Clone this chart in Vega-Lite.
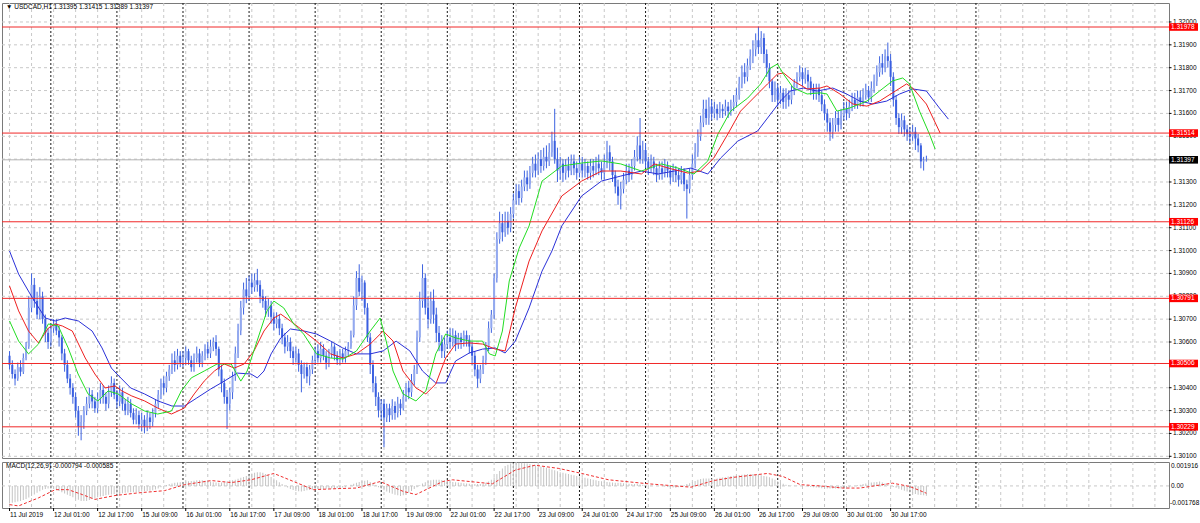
{
"$schema": "https://vega.github.io/schema/vega-lite/v6.json",
"background": "white",
"padding": {"left": 1, "top": 2, "right": 0, "bottom": 0},
"bounds": "flush",
"spacing": 4,
"config": {
  "view": {"stroke": "#7a7a7a", "strokeWidth": 1},
  "title": {"font": "Liberation Sans", "fontSize": 6.5, "fontWeight": "normal", "color": "#000000", "anchor": "start", "frame": "group"}
},
"resolve": {"scale": {"x": "independent", "y": "independent"}},
"datasets": {
  "xgrid": [{"i":0},{"i":8},{"i":16},{"i":24},{"i":32},{"i":40},{"i":48},{"i":56},{"i":64},{"i":72},{"i":80},{"i":88},{"i":96},{"i":104},{"i":112},{"i":120},{"i":128},{"i":136},{"i":144},{"i":152},{"i":160},{"i":168},{"i":176},{"i":184},{"i":192},{"i":200},{"i":208},{"i":216},{"i":224},{"i":232},{"i":240},{"i":248},{"i":256},{"i":264},{"i":272},{"i":280},{"i":288},{"i":296},{"i":304},{"i":312},{"i":320},{"i":328},{"i":336},{"i":344},{"i":352},{"i":360},{"i":368},{"i":376},{"i":384},{"i":392},{"i":400},{"i":408},{"i":416}],
  "ygrid": [{"p":1.301},{"p":1.302},{"p":1.303},{"p":1.304},{"p":1.305},{"p":1.306},{"p":1.307},{"p":1.308},{"p":1.309},{"p":1.31},{"p":1.311},{"p":1.312},{"p":1.313},{"p":1.314},{"p":1.315},{"p":1.316},{"p":1.317},{"p":1.318},{"p":1.319},{"p":1.32}],
  "ylines": [{"p":1.301},{"p":1.302},{"p":1.303},{"p":1.304},{"p":1.306},{"p":1.307},{"p":1.308},{"p":1.309},{"p":1.31},{"p":1.311},{"p":1.312},{"p":1.313},{"p":1.314},{"p":1.315},{"p":1.316},{"p":1.317},{"p":1.318},{"p":1.319},{"p":1.32}],
  "xlab": [{"i":0,"t":"11 Jul 2019"},{"i":16,"t":"12 Jul 01:00"},{"i":32,"t":"12 Jul 17:00"},{"i":48,"t":"15 Jul 09:00"},{"i":64,"t":"16 Jul 01:00"},{"i":80,"t":"16 Jul 17:00"},{"i":96,"t":"17 Jul 09:00"},{"i":112,"t":"18 Jul 01:00"},{"i":128,"t":"18 Jul 17:00"},{"i":144,"t":"19 Jul 09:00"},{"i":160,"t":"22 Jul 01:00"},{"i":176,"t":"22 Jul 17:00"},{"i":192,"t":"23 Jul 09:00"},{"i":208,"t":"24 Jul 01:00"},{"i":224,"t":"24 Jul 17:00"},{"i":240,"t":"25 Jul 09:00"},{"i":256,"t":"26 Jul 01:00"},{"i":272,"t":"26 Jul 17:00"},{"i":288,"t":"29 Jul 09:00"},{"i":304,"t":"30 Jul 01:00"},{"i":320,"t":"30 Jul 17:00"}],
  "days": [{"i":15},{"i":39},{"i":63},{"i":87},{"i":111},{"i":135},{"i":159},{"i":183},{"i":207},{"i":231},{"i":255},{"i":279},{"i":303},{"i":327},{"i":351}],
  "levels": [{"p":1.31978},{"p":1.31514},{"p":1.31126},{"p":1.30791},{"p":1.30506},{"p":1.30229}],
  "cur": [{"p":1.31397}],
  "jaw": [{"i":0,"v":1.30998},{"i":3.3,"v":1.30897},{"i":8.3,"v":1.30793},{"i":13,"v":1.30705},{"i":16.6,"v":1.30692},{"i":20.2,"v":1.30705},{"i":25,"v":1.30692},{"i":30,"v":1.30648},{"i":33.6,"v":1.30574},{"i":37,"v":1.30486},{"i":39,"v":1.3046},{"i":44,"v":1.30399},{"i":49,"v":1.30373},{"i":54,"v":1.30342},{"i":59,"v":1.3032},{"i":63.5,"v":1.3032},{"i":68,"v":1.30355},{"i":73,"v":1.30394},{"i":78,"v":1.30429},{"i":82.7,"v":1.30464},{"i":87.7,"v":1.3046},{"i":90,"v":1.30443},{"i":92.4,"v":1.30473},{"i":95,"v":1.30548},{"i":98.5,"v":1.30618},{"i":102,"v":1.30657},{"i":107,"v":1.30648},{"i":111.5,"v":1.30635},{"i":116.6,"v":1.30604},{"i":121,"v":1.30574},{"i":126,"v":1.30548},{"i":131,"v":1.30548},{"i":135.7,"v":1.30561},{"i":140.4,"v":1.30604},{"i":145.4,"v":1.30561},{"i":150,"v":1.30473},{"i":154.8,"v":1.30421},{"i":158.4,"v":1.30421},{"i":162,"v":1.30517},{"i":167,"v":1.30552},{"i":171.8,"v":1.30569},{"i":176.4,"v":1.30574},{"i":180,"v":1.30552},{"i":183.7,"v":1.30604},{"i":188.7,"v":1.30749},{"i":193.4,"v":1.3091},{"i":197,"v":1.30998},{"i":200.6,"v":1.31108},{"i":207.8,"v":1.31239},{"i":215,"v":1.31304},{"i":222,"v":1.31326},{"i":229.5,"v":1.31348},{"i":235.6,"v":1.31335},{"i":241.4,"v":1.31348},{"i":247.5,"v":1.31361},{"i":253.6,"v":1.31335},{"i":258.3,"v":1.31405},{"i":264.5,"v":1.31479},{"i":271.7,"v":1.31523},{"i":276.4,"v":1.31597},{"i":280,"v":1.31654},{"i":283.6,"v":1.31698},{"i":288.3,"v":1.31711},{"i":293.3,"v":1.31698},{"i":299,"v":1.31711},{"i":304,"v":1.31685},{"i":308.8,"v":1.31654},{"i":313.5,"v":1.31641},{"i":318.6,"v":1.31654},{"i":323.3,"v":1.31685},{"i":328,"v":1.31707},{"i":333,"v":1.31698},{"i":337.7,"v":1.31624},{"i":341,"v":1.31575}],
  "teeth": [{"i":0,"v":1.30845},{"i":3.3,"v":1.30736},{"i":6.9,"v":1.30648},{"i":10.5,"v":1.30596},{"i":14.1,"v":1.30661},{"i":16.6,"v":1.30679},{"i":19.2,"v":1.3067},{"i":22.8,"v":1.30648},{"i":27.5,"v":1.3053},{"i":31,"v":1.3046},{"i":34.7,"v":1.30399},{"i":38.3,"v":1.30408},{"i":40.8,"v":1.30386},{"i":44.4,"v":1.30364},{"i":49.1,"v":1.30342},{"i":53.8,"v":1.30311},{"i":58.8,"v":1.30285},{"i":63.5,"v":1.30311},{"i":67.1,"v":1.30373},{"i":70.7,"v":1.30429},{"i":74.4,"v":1.30473},{"i":78,"v":1.30504},{"i":81.6,"v":1.30486},{"i":85.2,"v":1.30504},{"i":88.8,"v":1.30561},{"i":92.4,"v":1.30648},{"i":96,"v":1.30705},{"i":98.5,"v":1.30722},{"i":102,"v":1.30692},{"i":106.8,"v":1.30648},{"i":111.5,"v":1.30604},{"i":116.6,"v":1.30548},{"i":121.2,"v":1.3053},{"i":126,"v":1.30548},{"i":131,"v":1.30591},{"i":135.7,"v":1.30648},{"i":139.3,"v":1.30604},{"i":142.9,"v":1.30473},{"i":147.6,"v":1.30399},{"i":151.2,"v":1.30373},{"i":154.8,"v":1.30416},{"i":158.4,"v":1.3053},{"i":162,"v":1.30591},{"i":167,"v":1.30596},{"i":171.8,"v":1.30591},{"i":176.4,"v":1.30569},{"i":180,"v":1.30561},{"i":183.7,"v":1.30749},{"i":188.7,"v":1.30954},{"i":193.4,"v":1.31086},{"i":200.6,"v":1.31239},{"i":207.8,"v":1.31304},{"i":215,"v":1.31348},{"i":222,"v":1.31348},{"i":229.5,"v":1.31335},{"i":234.2,"v":1.31379},{"i":239.2,"v":1.31361},{"i":246.4,"v":1.31339},{"i":251,"v":1.31348},{"i":255.8,"v":1.31405},{"i":260.9,"v":1.3151},{"i":265.5,"v":1.3161},{"i":270.2,"v":1.31667},{"i":275.3,"v":1.31729},{"i":278.9,"v":1.31772},{"i":281.1,"v":1.31777},{"i":284.7,"v":1.31742},{"i":289.7,"v":1.31707},{"i":294.4,"v":1.31711},{"i":296.9,"v":1.3172},{"i":301.6,"v":1.31685},{"i":306.3,"v":1.31641},{"i":311.4,"v":1.31632},{"i":316,"v":1.31654},{"i":320.7,"v":1.3169},{"i":325.8,"v":1.31729},{"i":328,"v":1.31711},{"i":333,"v":1.31641},{"i":338,"v":1.31514}],
  "lips": [{"i":0,"v":1.30692},{"i":3.3,"v":1.30604},{"i":6.9,"v":1.30548},{"i":10.5,"v":1.30591},{"i":14.1,"v":1.30679},{"i":17.7,"v":1.3067},{"i":21.3,"v":1.30574},{"i":24.9,"v":1.3046},{"i":28.5,"v":1.30373},{"i":32.1,"v":1.30342},{"i":35.8,"v":1.30386},{"i":39.4,"v":1.30373},{"i":44.4,"v":1.30329},{"i":49.1,"v":1.30298},{"i":53.8,"v":1.30285},{"i":58.8,"v":1.30298},{"i":62.4,"v":1.30386},{"i":66,"v":1.30443},{"i":70.7,"v":1.30473},{"i":75.4,"v":1.30504},{"i":80.5,"v":1.30504},{"i":84,"v":1.30429},{"i":86.3,"v":1.30473},{"i":89.9,"v":1.30604},{"i":93.5,"v":1.30736},{"i":96,"v":1.30779},{"i":99.6,"v":1.30749},{"i":103.2,"v":1.30679},{"i":106.8,"v":1.30635},{"i":111.5,"v":1.30548},{"i":116.6,"v":1.3053},{"i":121.2,"v":1.30526},{"i":126,"v":1.30561},{"i":131,"v":1.30648},{"i":134.6,"v":1.30705},{"i":136.8,"v":1.30604},{"i":139.3,"v":1.30473},{"i":142.9,"v":1.30373},{"i":147.6,"v":1.30342},{"i":151.2,"v":1.30386},{"i":154.8,"v":1.30548},{"i":158.4,"v":1.30635},{"i":162,"v":1.30618},{"i":167,"v":1.30604},{"i":171.8,"v":1.30604},{"i":174.3,"v":1.30548},{"i":176.4,"v":1.30539},{"i":179,"v":1.30648},{"i":181.5,"v":1.30867},{"i":185.1,"v":1.31011},{"i":188.7,"v":1.31108},{"i":193.4,"v":1.31304},{"i":200.6,"v":1.3137},{"i":207.8,"v":1.31383},{"i":215,"v":1.31392},{"i":222,"v":1.31379},{"i":229.5,"v":1.31348},{"i":236.7,"v":1.31379},{"i":242.8,"v":1.31361},{"i":248.6,"v":1.31335},{"i":253.6,"v":1.31392},{"i":257.3,"v":1.3151},{"i":261.9,"v":1.3161},{"i":268.1,"v":1.31667},{"i":272.8,"v":1.31729},{"i":276.4,"v":1.31799},{"i":278.9,"v":1.31816},{"i":281.1,"v":1.31772},{"i":284.7,"v":1.31711},{"i":289.7,"v":1.31685},{"i":294.4,"v":1.3169},{"i":296.9,"v":1.31685},{"i":300.5,"v":1.3161},{"i":305.2,"v":1.31624},{"i":311.4,"v":1.31654},{"i":316,"v":1.31698},{"i":320.7,"v":1.31742},{"i":324.4,"v":1.31755},{"i":326.9,"v":1.31729},{"i":330.5,"v":1.3161},{"i":334.1,"v":1.3151},{"i":336.2,"v":1.31444}],
  "sig": [{"i":0,"s":-0.0015},{"i":3.3,"s":-0.0016},{"i":10.5,"s":-0.00096},{"i":16.6,"s":-0.0003},{"i":21.3,"s":-0.0003},{"i":26.4,"s":-0.00069},{"i":31,"s":-0.00108},{"i":38.3,"s":-0.00077},{"i":46.6,"s":-0.00056},{"i":56.3,"s":-0.00038},{"i":63.5,"s":0.0001},{"i":73.3,"s":0.00043},{"i":80.5,"s":0.00027},{"i":87.7,"s":0.00049},{"i":96,"s":0.001},{"i":103.2,"s":0.00035},{"i":110.4,"s":-0.0003},{"i":118.7,"s":-0.00022},{"i":126,"s":-0.00017},{"i":134.6,"s":0.00035},{"i":142.9,"s":-0.00043},{"i":147.6,"s":-0.00069},{"i":157.3,"s":0.00035},{"i":160.9,"s":0.00049},{"i":175.4,"s":0.00017},{"i":183.7,"s":0.00127},{"i":190.9,"s":0.00166},{"i":199.5,"s":0.0014},{"i":207.8,"s":0.001},{"i":217.6,"s":0.00049},{"i":232,"s":0.00017},{"i":247.5,"s":-0.0001},{"i":255.8,"s":0.00043},{"i":263,"s":0.00069},{"i":275.3,"s":0.001},{"i":281,"s":0.00075},{"i":287.2,"s":0.0001},{"i":294.4,"s":0},{"i":302.7,"s":-0.00017},{"i":308.8,"s":-0.00017},{"i":320.7,"s":0.00022},{"i":326.9,"s":-0.00004},{"i":333,"s":-0.000585}],
  "macd": [
{"i":0,"m":-0.0014},{"i":1,"m":-0.00135},{"i":2,"m":-0.0013},{"i":3,"m":-0.00125},{"i":4,"m":-0.0012},{"i":5,"m":-0.00112},{"i":6,"m":-0.00105},{"i":7,"m":-0.00092},{"i":8,"m":-0.0008},{"i":9,"m":-0.00068},
{"i":10,"m":-0.00055},{"i":11,"m":-0.00042},{"i":12,"m":-0.0003},{"i":13,"m":-0.00025},{"i":14,"m":-0.0002},{"i":15,"m":-0.00022},{"i":16,"m":-0.00025},{"i":17,"m":-0.00032},{"i":18,"m":-0.0004},{"i":19,"m":-0.0005},
{"i":20,"m":-0.0006},{"i":21,"m":-0.0007},{"i":22,"m":-0.0008},{"i":23,"m":-0.0009},{"i":24,"m":-0.001},{"i":25,"m":-0.0011},{"i":26,"m":-0.0012},{"i":27,"m":-0.0012},{"i":28,"m":-0.0012},{"i":29,"m":-0.00112},
{"i":30,"m":-0.00105},{"i":31,"m":-0.00098},{"i":32,"m":-0.0009},{"i":33,"m":-0.00085},{"i":34,"m":-0.0008},{"i":35,"m":-0.00075},{"i":36,"m":-0.0007},{"i":37,"m":-0.00068},{"i":38,"m":-0.00065},{"i":39,"m":-0.00062},
{"i":40,"m":-0.0006},{"i":41,"m":-0.00058},{"i":42,"m":-0.00055},{"i":43,"m":-0.00052},{"i":44,"m":-0.0005},{"i":45,"m":-0.0005},{"i":46,"m":-0.0005},{"i":47,"m":-0.00048},{"i":48,"m":-0.00045},{"i":49,"m":-0.00042},
{"i":50,"m":-0.0004},{"i":51,"m":-0.00038},{"i":52,"m":-0.00035},{"i":53,"m":-0.00028},{"i":54,"m":-0.0002},{"i":55,"m":-0.0001},{"i":56,"m":0},{"i":57,"m":0.00008},{"i":58,"m":0.00015},{"i":59,"m":0.0002},
{"i":60,"m":0.00025},{"i":61,"m":0.00028},{"i":62,"m":0.0003},{"i":63,"m":0.00032},{"i":64,"m":0.00035},{"i":65,"m":0.00038},{"i":66,"m":0.0004},{"i":67,"m":0.00042},{"i":68,"m":0.00045},{"i":69,"m":0.00045},
{"i":70,"m":0.00045},{"i":71,"m":0.00042},{"i":72,"m":0.0004},{"i":73,"m":0.00035},{"i":74,"m":0.0003},{"i":75,"m":0.00028},{"i":76,"m":0.00025},{"i":77,"m":0.00028},{"i":78,"m":0.0003},{"i":79,"m":0.00035},
{"i":80,"m":0.0004},{"i":81,"m":0.00045},{"i":82,"m":0.0005},{"i":83,"m":0.00058},{"i":84,"m":0.00065},{"i":85,"m":0.00072},{"i":86,"m":0.0008},{"i":87,"m":0.0009},{"i":88,"m":0.001},{"i":89,"m":0.00105},
{"i":90,"m":0.0011},{"i":91,"m":0.0011},{"i":92,"m":0.00105},{"i":93,"m":0.00095},{"i":94,"m":0.00085},{"i":95,"m":0.00072},{"i":96,"m":0.0006},{"i":97,"m":0.00045},{"i":98,"m":0.0003},{"i":99,"m":0.00015},
{"i":100,"m":0},{"i":101,"m":-0.00012},{"i":102,"m":-0.00025},{"i":103,"m":-0.00032},{"i":104,"m":-0.0004},{"i":105,"m":-0.00042},{"i":106,"m":-0.00045},{"i":107,"m":-0.0004},{"i":108,"m":-0.00035},{"i":109,"m":-0.00032},
{"i":110,"m":-0.0003},{"i":111,"m":-0.00028},{"i":112,"m":-0.00025},{"i":113,"m":-0.00025},{"i":114,"m":-0.00025},{"i":115,"m":-0.00022},{"i":116,"m":-0.0002},{"i":117,"m":-0.0002},{"i":118,"m":-0.0002},{"i":119,"m":-0.00018},
{"i":120,"m":-0.00015},{"i":121,"m":-0.00012},{"i":122,"m":-0.0001},{"i":123,"m":0},{"i":124,"m":0.0001},{"i":125,"m":0.00018},{"i":126,"m":0.00025},{"i":127,"m":0.00032},{"i":128,"m":0.0004},{"i":129,"m":0.00042},
{"i":130,"m":0.00045},{"i":131,"m":0.00032},{"i":132,"m":0.0002},{"i":133,"m":0.00005},{"i":134,"m":-0.0001},{"i":135,"m":-0.00022},{"i":136,"m":-0.00035},{"i":137,"m":-0.00045},{"i":138,"m":-0.00055},{"i":139,"m":-0.00062},
{"i":140,"m":-0.0007},{"i":141,"m":-0.00075},{"i":142,"m":-0.0008},{"i":143,"m":-0.00075},{"i":144,"m":-0.0007},{"i":145,"m":-0.00055},{"i":146,"m":-0.0004},{"i":147,"m":-0.00025},{"i":148,"m":-0.0001},{"i":149,"m":0.00005},
{"i":150,"m":0.0002},{"i":151,"m":0.0003},{"i":152,"m":0.0004},{"i":153,"m":0.00045},{"i":154,"m":0.0005},{"i":155,"m":0.0005},{"i":156,"m":0.0005},{"i":157,"m":0.00048},{"i":158,"m":0.00045},{"i":159,"m":0.0004},
{"i":160,"m":0.00035},{"i":161,"m":0.00032},{"i":162,"m":0.0003},{"i":163,"m":0.00028},{"i":164,"m":0.00025},{"i":165,"m":0.00022},{"i":166,"m":0.0002},{"i":167,"m":0.00018},{"i":168,"m":0.00015},{"i":169,"m":0.00015},
{"i":170,"m":0.00015},{"i":171,"m":0.00015},{"i":172,"m":0.00018},{"i":173,"m":0.00025},{"i":174,"m":0.00035},{"i":175,"m":0.0005},{"i":176,"m":0.0007},{"i":177,"m":0.00095},{"i":178,"m":0.0012},{"i":179,"m":0.0014},
{"i":180,"m":0.0016},{"i":181,"m":0.0017},{"i":182,"m":0.0018},{"i":183,"m":0.00182},{"i":184,"m":0.00185},{"i":185,"m":0.00185},{"i":186,"m":0.00185},{"i":187,"m":0.00182},{"i":188,"m":0.0018},{"i":189,"m":0.00175},
{"i":190,"m":0.0017},{"i":191,"m":0.00165},{"i":192,"m":0.0016},{"i":193,"m":0.00155},{"i":194,"m":0.0015},{"i":195,"m":0.00145},{"i":196,"m":0.0014},{"i":197,"m":0.00132},{"i":198,"m":0.00125},{"i":199,"m":0.00118},
{"i":200,"m":0.0011},{"i":201,"m":0.00105},{"i":202,"m":0.001},{"i":203,"m":0.00095},{"i":204,"m":0.0009},{"i":205,"m":0.00085},{"i":206,"m":0.0008},{"i":207,"m":0.00075},{"i":208,"m":0.0007},{"i":209,"m":0.00065},
{"i":210,"m":0.0006},{"i":211,"m":0.00055},{"i":212,"m":0.0005},{"i":213,"m":0.00045},{"i":214,"m":0.0004},{"i":215,"m":0.00038},{"i":216,"m":0.00035},{"i":217,"m":0.00032},{"i":218,"m":0.0003},{"i":219,"m":0.00028},
{"i":220,"m":0.00025},{"i":221,"m":0.00025},{"i":222,"m":0.00025},{"i":223,"m":0.00022},{"i":224,"m":0.0002},{"i":225,"m":0.00018},{"i":226,"m":0.00015},{"i":227,"m":0.00015},{"i":228,"m":0.00015},{"i":229,"m":0.00012},
{"i":230,"m":0.0001},{"i":231,"m":0.00008},{"i":232,"m":0.00005},{"i":233,"m":0.00002},{"i":234,"m":0},{"i":235,"m":0},{"i":236,"m":0},{"i":237,"m":-0.00002},{"i":238,"m":-0.00005},{"i":239,"m":-0.00008},
{"i":240,"m":-0.0001},{"i":241,"m":-0.00012},{"i":242,"m":-0.00015},{"i":243,"m":-0.0001},{"i":244,"m":-0.00005},{"i":245,"m":0.00005},{"i":246,"m":0.00015},{"i":247,"m":0.00022},{"i":248,"m":0.0003},{"i":249,"m":0.0004},
{"i":250,"m":0.0005},{"i":251,"m":0.00055},{"i":252,"m":0.0006},{"i":253,"m":0.0006},{"i":254,"m":0.0006},{"i":255,"m":0.00058},{"i":256,"m":0.00055},{"i":257,"m":0.0006},{"i":258,"m":0.00065},{"i":259,"m":0.00068},
{"i":260,"m":0.0007},{"i":261,"m":0.00075},{"i":262,"m":0.0008},{"i":263,"m":0.00082},{"i":264,"m":0.00085},{"i":265,"m":0.00088},{"i":266,"m":0.0009},{"i":267,"m":0.00092},{"i":268,"m":0.00095},{"i":269,"m":0.00095},
{"i":270,"m":0.00095},{"i":271,"m":0.00092},{"i":272,"m":0.0009},{"i":273,"m":0.00085},{"i":274,"m":0.0008},{"i":275,"m":0.00075},{"i":276,"m":0.0007},{"i":277,"m":0.0006},{"i":278,"m":0.0005},{"i":279,"m":0.00038},
{"i":280,"m":0.00025},{"i":281,"m":0.00018},{"i":282,"m":0.0001},{"i":283,"m":0.00005},{"i":284,"m":0.00002},{"i":285,"m":0.00002},{"i":286,"m":0.00002},{"i":287,"m":0.00001},{"i":288,"m":0},{"i":289,"m":-0.00002},
{"i":290,"m":-0.00005},{"i":291,"m":-0.00008},{"i":292,"m":-0.0001},{"i":293,"m":-0.00012},{"i":294,"m":-0.00015},{"i":295,"m":-0.00018},{"i":296,"m":-0.0002},{"i":297,"m":-0.0002},{"i":298,"m":-0.0002},{"i":299,"m":-0.0002},
{"i":300,"m":-0.0002},{"i":301,"m":-0.0002},{"i":302,"m":-0.0002},{"i":303,"m":-0.00018},{"i":304,"m":-0.00015},{"i":305,"m":-0.0001},{"i":306,"m":-0.00005},{"i":307,"m":0},{"i":308,"m":0.00005},{"i":309,"m":0.0001},
{"i":310,"m":0.00015},{"i":311,"m":0.0002},{"i":312,"m":0.00025},{"i":313,"m":0.00028},{"i":314,"m":0.0003},{"i":315,"m":0.00032},{"i":316,"m":0.00035},{"i":317,"m":0.00028},{"i":318,"m":0.0002},{"i":319,"m":0.0001},
{"i":320,"m":0},{"i":321,"m":-0.00008},{"i":322,"m":-0.00015},{"i":323,"m":-0.00022},{"i":324,"m":-0.0003},{"i":325,"m":-0.00038},{"i":326,"m":-0.00045},{"i":327,"m":-0.00052},{"i":328,"m":-0.0006},{"i":329,"m":-0.00065},
{"i":330,"m":-0.0007},{"i":331,"m":-0.00072},{"i":332,"m":-0.00075},{"i":333,"m":-0.000794}
  ],
  "candles": [
{"i":0,"o":1.3054,"h":1.3056,"l":1.3048,"c":1.3050},
{"i":1,"o":1.3050,"h":1.3052,"l":1.3044,"c":1.3046},
{"i":2,"o":1.3046,"h":1.3048,"l":1.3041,"c":1.3044},
{"i":3,"o":1.3044,"h":1.3051,"l":1.3043,"c":1.3049},
{"i":4,"o":1.3049,"h":1.3052,"l":1.3045,"c":1.3047},
{"i":5,"o":1.3047,"h":1.3055,"l":1.3046,"c":1.3053},
{"i":6,"o":1.3053,"h":1.3060,"l":1.3052,"c":1.3058},
{"i":7,"o":1.3058,"h":1.3080,"l":1.3057,"c":1.3075},
{"i":8,"o":1.3075,"h":1.3090,"l":1.3073,"c":1.3085},
{"i":9,"o":1.3085,"h":1.3088,"l":1.3075,"c":1.3078},
{"i":10,"o":1.3078,"h":1.3082,"l":1.3070,"c":1.3072},
{"i":11,"o":1.3072,"h":1.3084,"l":1.3070,"c":1.3080},
{"i":12,"o":1.3080,"h":1.3082,"l":1.3068,"c":1.3070},
{"i":13,"o":1.3070,"h":1.3072,"l":1.3060,"c":1.3064},
{"i":14,"o":1.3064,"h":1.3066,"l":1.3057,"c":1.3060},
{"i":15,"o":1.3060,"h":1.3068,"l":1.3058,"c":1.3066},
{"i":16,"o":1.3066,"h":1.3070,"l":1.3064,"c":1.3068},
{"i":17,"o":1.3068,"h":1.3070,"l":1.3063,"c":1.3065},
{"i":18,"o":1.3065,"h":1.3067,"l":1.3058,"c":1.3062},
{"i":19,"o":1.3062,"h":1.3063,"l":1.3052,"c":1.3055},
{"i":20,"o":1.3055,"h":1.3057,"l":1.3047,"c":1.3050},
{"i":21,"o":1.3050,"h":1.3052,"l":1.3042,"c":1.3044},
{"i":22,"o":1.3044,"h":1.3046,"l":1.3037,"c":1.3040},
{"i":23,"o":1.3040,"h":1.3042,"l":1.3033,"c":1.3036},
{"i":24,"o":1.3036,"h":1.3038,"l":1.3027,"c":1.3030},
{"i":25,"o":1.3030,"h":1.3032,"l":1.3019,"c":1.3023},
{"i":26,"o":1.3023,"h":1.3028,"l":1.3017,"c":1.3025},
{"i":27,"o":1.3025,"h":1.3032,"l":1.3022,"c":1.3030},
{"i":28,"o":1.3030,"h":1.3036,"l":1.3028,"c":1.3033},
{"i":29,"o":1.3033,"h":1.3040,"l":1.3031,"c":1.3037},
{"i":30,"o":1.3037,"h":1.3039,"l":1.3031,"c":1.3034},
{"i":31,"o":1.3034,"h":1.3036,"l":1.3029,"c":1.3031},
{"i":32,"o":1.3031,"h":1.3038,"l":1.3029,"c":1.3035},
{"i":33,"o":1.3035,"h":1.3042,"l":1.3033,"c":1.3039},
{"i":34,"o":1.3039,"h":1.3041,"l":1.3033,"c":1.3036},
{"i":35,"o":1.3036,"h":1.3038,"l":1.3030,"c":1.3033},
{"i":36,"o":1.3033,"h":1.3041,"l":1.3031,"c":1.3038},
{"i":37,"o":1.3038,"h":1.3045,"l":1.3036,"c":1.3042},
{"i":38,"o":1.3042,"h":1.3044,"l":1.3035,"c":1.3037},
{"i":39,"o":1.3037,"h":1.3039,"l":1.3031,"c":1.3034},
{"i":40,"o":1.3034,"h":1.3041,"l":1.3032,"c":1.3038},
{"i":41,"o":1.3038,"h":1.3040,"l":1.3030,"c":1.3033},
{"i":42,"o":1.3033,"h":1.3035,"l":1.3028,"c":1.3030},
{"i":43,"o":1.3030,"h":1.3036,"l":1.3028,"c":1.3033},
{"i":44,"o":1.3033,"h":1.3035,"l":1.3027,"c":1.3029},
{"i":45,"o":1.3029,"h":1.3031,"l":1.3024,"c":1.3026},
{"i":46,"o":1.3026,"h":1.3031,"l":1.3024,"c":1.3028},
{"i":47,"o":1.3028,"h":1.3030,"l":1.3022,"c":1.3024},
{"i":48,"o":1.3024,"h":1.3029,"l":1.3021,"c":1.3026},
{"i":49,"o":1.3026,"h":1.3028,"l":1.3020,"c":1.3023},
{"i":50,"o":1.3023,"h":1.3030,"l":1.3021,"c":1.3027},
{"i":51,"o":1.3027,"h":1.3029,"l":1.3022,"c":1.3025},
{"i":52,"o":1.3025,"h":1.3031,"l":1.3023,"c":1.3029},
{"i":53,"o":1.3029,"h":1.3035,"l":1.3027,"c":1.3033},
{"i":54,"o":1.3033,"h":1.3039,"l":1.3031,"c":1.3037},
{"i":55,"o":1.3037,"h":1.3044,"l":1.3035,"c":1.3042},
{"i":56,"o":1.3042,"h":1.3045,"l":1.3037,"c":1.3040},
{"i":57,"o":1.3040,"h":1.3047,"l":1.3038,"c":1.3045},
{"i":58,"o":1.3045,"h":1.3050,"l":1.3043,"c":1.3048},
{"i":59,"o":1.3048,"h":1.3055,"l":1.3046,"c":1.3052},
{"i":60,"o":1.3052,"h":1.3056,"l":1.3047,"c":1.3050},
{"i":61,"o":1.3050,"h":1.3057,"l":1.3048,"c":1.3054},
{"i":62,"o":1.3054,"h":1.3056,"l":1.3049,"c":1.3051},
{"i":63,"o":1.3051,"h":1.3056,"l":1.3049,"c":1.3053},
{"i":64,"o":1.3053,"h":1.3058,"l":1.3050,"c":1.3056},
{"i":65,"o":1.3056,"h":1.3057,"l":1.3050,"c":1.3052},
{"i":66,"o":1.3052,"h":1.3054,"l":1.3047,"c":1.3049},
{"i":67,"o":1.3049,"h":1.3055,"l":1.3047,"c":1.3053},
{"i":68,"o":1.3053,"h":1.3058,"l":1.3051,"c":1.3055},
{"i":69,"o":1.3055,"h":1.3057,"l":1.3049,"c":1.3051},
{"i":70,"o":1.3051,"h":1.3056,"l":1.3049,"c":1.3054},
{"i":71,"o":1.3054,"h":1.3059,"l":1.3052,"c":1.3057},
{"i":72,"o":1.3057,"h":1.3060,"l":1.3053,"c":1.3055},
{"i":73,"o":1.3055,"h":1.3061,"l":1.3053,"c":1.3058},
{"i":74,"o":1.3058,"h":1.3062,"l":1.3056,"c":1.3060},
{"i":75,"o":1.3060,"h":1.3063,"l":1.3054,"c":1.3057},
{"i":76,"o":1.3057,"h":1.3058,"l":1.3045,"c":1.3048},
{"i":77,"o":1.3048,"h":1.3050,"l":1.3038,"c":1.3042},
{"i":78,"o":1.3042,"h":1.3044,"l":1.3033,"c":1.3036},
{"i":79,"o":1.3036,"h":1.3039,"l":1.3022,"c":1.3033},
{"i":80,"o":1.3033,"h":1.3040,"l":1.3030,"c":1.3038},
{"i":81,"o":1.3038,"h":1.3047,"l":1.3035,"c":1.3045},
{"i":82,"o":1.3045,"h":1.3058,"l":1.3043,"c":1.3055},
{"i":83,"o":1.3055,"h":1.3068,"l":1.3053,"c":1.3065},
{"i":84,"o":1.3065,"h":1.3078,"l":1.3063,"c":1.3075},
{"i":85,"o":1.3075,"h":1.3086,"l":1.3072,"c":1.3083},
{"i":86,"o":1.3083,"h":1.3088,"l":1.3077,"c":1.3080},
{"i":87,"o":1.3080,"h":1.3089,"l":1.3078,"c":1.3086},
{"i":88,"o":1.3086,"h":1.3090,"l":1.3081,"c":1.3084},
{"i":89,"o":1.3084,"h":1.3090,"l":1.3082,"c":1.3087},
{"i":90,"o":1.3087,"h":1.3092,"l":1.3082,"c":1.3085},
{"i":91,"o":1.3085,"h":1.3087,"l":1.3077,"c":1.3080},
{"i":92,"o":1.3080,"h":1.3083,"l":1.3075,"c":1.3078},
{"i":93,"o":1.3078,"h":1.3080,"l":1.3071,"c":1.3074},
{"i":94,"o":1.3074,"h":1.3079,"l":1.3071,"c":1.3076},
{"i":95,"o":1.3076,"h":1.3078,"l":1.3068,"c":1.3071},
{"i":96,"o":1.3071,"h":1.3073,"l":1.3065,"c":1.3068},
{"i":97,"o":1.3068,"h":1.3073,"l":1.3066,"c":1.3070},
{"i":98,"o":1.3070,"h":1.3072,"l":1.3063,"c":1.3066},
{"i":99,"o":1.3066,"h":1.3068,"l":1.3059,"c":1.3062},
{"i":100,"o":1.3062,"h":1.3064,"l":1.3055,"c":1.3058},
{"i":101,"o":1.3058,"h":1.3063,"l":1.3056,"c":1.3060},
{"i":102,"o":1.3060,"h":1.3062,"l":1.3053,"c":1.3056},
{"i":103,"o":1.3056,"h":1.3058,"l":1.3050,"c":1.3053},
{"i":104,"o":1.3053,"h":1.3058,"l":1.3051,"c":1.3055},
{"i":105,"o":1.3055,"h":1.3057,"l":1.3047,"c":1.3050},
{"i":106,"o":1.3050,"h":1.3052,"l":1.3038,"c":1.3046},
{"i":107,"o":1.3046,"h":1.3051,"l":1.3044,"c":1.3049},
{"i":108,"o":1.3049,"h":1.3051,"l":1.3042,"c":1.3045},
{"i":109,"o":1.3045,"h":1.3050,"l":1.3041,"c":1.3048},
{"i":110,"o":1.3048,"h":1.3054,"l":1.3046,"c":1.3052},
{"i":111,"o":1.3052,"h":1.3058,"l":1.3050,"c":1.3056},
{"i":112,"o":1.3056,"h":1.3059,"l":1.3051,"c":1.3053},
{"i":113,"o":1.3053,"h":1.3060,"l":1.3051,"c":1.3057},
{"i":114,"o":1.3057,"h":1.3059,"l":1.3052,"c":1.3054},
{"i":115,"o":1.3054,"h":1.3056,"l":1.3048,"c":1.3051},
{"i":116,"o":1.3051,"h":1.3057,"l":1.3049,"c":1.3055},
{"i":117,"o":1.3055,"h":1.3060,"l":1.3053,"c":1.3058},
{"i":118,"o":1.3058,"h":1.3059,"l":1.3052,"c":1.3054},
{"i":119,"o":1.3054,"h":1.3056,"l":1.3050,"c":1.3052},
{"i":120,"o":1.3052,"h":1.3057,"l":1.3050,"c":1.3055},
{"i":121,"o":1.3055,"h":1.3057,"l":1.3051,"c":1.3053},
{"i":122,"o":1.3053,"h":1.3058,"l":1.3051,"c":1.3056},
{"i":123,"o":1.3056,"h":1.3060,"l":1.3054,"c":1.3058},
{"i":124,"o":1.3058,"h":1.3065,"l":1.3057,"c":1.3063},
{"i":125,"o":1.3063,"h":1.3080,"l":1.3062,"c":1.3076},
{"i":126,"o":1.3076,"h":1.3091,"l":1.3074,"c":1.3088},
{"i":127,"o":1.3088,"h":1.3094,"l":1.3080,"c":1.3082},
{"i":128,"o":1.3082,"h":1.3089,"l":1.3078,"c":1.3086},
{"i":129,"o":1.3086,"h":1.3087,"l":1.3072,"c":1.3075},
{"i":130,"o":1.3075,"h":1.3077,"l":1.3060,"c":1.3062},
{"i":131,"o":1.3062,"h":1.3064,"l":1.3046,"c":1.3050},
{"i":132,"o":1.3050,"h":1.3052,"l":1.3038,"c":1.3042},
{"i":133,"o":1.3042,"h":1.3045,"l":1.3032,"c":1.3036},
{"i":134,"o":1.3036,"h":1.3038,"l":1.3027,"c":1.3030},
{"i":135,"o":1.3030,"h":1.3035,"l":1.3026,"c":1.3033},
{"i":136,"o":1.3033,"h":1.3035,"l":1.3014,"c":1.3027},
{"i":137,"o":1.3027,"h":1.3033,"l":1.3025,"c":1.3031},
{"i":138,"o":1.3031,"h":1.3033,"l":1.3025,"c":1.3028},
{"i":139,"o":1.3028,"h":1.3035,"l":1.3026,"c":1.3032},
{"i":140,"o":1.3032,"h":1.3034,"l":1.3026,"c":1.3029},
{"i":141,"o":1.3029,"h":1.3036,"l":1.3027,"c":1.3033},
{"i":142,"o":1.3033,"h":1.3035,"l":1.3028,"c":1.3031},
{"i":143,"o":1.3031,"h":1.3039,"l":1.3030,"c":1.3036},
{"i":144,"o":1.3036,"h":1.3042,"l":1.3034,"c":1.3040},
{"i":145,"o":1.3040,"h":1.3043,"l":1.3035,"c":1.3038},
{"i":146,"o":1.3038,"h":1.3046,"l":1.3036,"c":1.3043},
{"i":147,"o":1.3043,"h":1.3050,"l":1.3041,"c":1.3048},
{"i":148,"o":1.3048,"h":1.3065,"l":1.3046,"c":1.3062},
{"i":149,"o":1.3062,"h":1.3082,"l":1.3060,"c":1.3078},
{"i":150,"o":1.3078,"h":1.3094,"l":1.3075,"c":1.3088},
{"i":151,"o":1.3088,"h":1.3090,"l":1.3072,"c":1.3075},
{"i":152,"o":1.3075,"h":1.3080,"l":1.3066,"c":1.3070},
{"i":153,"o":1.3070,"h":1.3082,"l":1.3068,"c":1.3078},
{"i":154,"o":1.3078,"h":1.3083,"l":1.3068,"c":1.3072},
{"i":155,"o":1.3072,"h":1.3075,"l":1.3060,"c":1.3064},
{"i":156,"o":1.3064,"h":1.3067,"l":1.3056,"c":1.3060},
{"i":157,"o":1.3060,"h":1.3063,"l":1.3053,"c":1.3056},
{"i":158,"o":1.3056,"h":1.3062,"l":1.3053,"c":1.3059},
{"i":159,"o":1.3059,"h":1.3065,"l":1.3057,"c":1.3062},
{"i":160,"o":1.3062,"h":1.3066,"l":1.3057,"c":1.3060},
{"i":161,"o":1.3060,"h":1.3066,"l":1.3058,"c":1.3063},
{"i":162,"o":1.3063,"h":1.3065,"l":1.3056,"c":1.3059},
{"i":163,"o":1.3059,"h":1.3064,"l":1.3057,"c":1.3062},
{"i":164,"o":1.3062,"h":1.3064,"l":1.3057,"c":1.3060},
{"i":165,"o":1.3060,"h":1.3065,"l":1.3058,"c":1.3063},
{"i":166,"o":1.3063,"h":1.3065,"l":1.3058,"c":1.3061},
{"i":167,"o":1.3061,"h":1.3063,"l":1.3055,"c":1.3058},
{"i":168,"o":1.3058,"h":1.3060,"l":1.3050,"c":1.3054},
{"i":169,"o":1.3054,"h":1.3056,"l":1.3045,"c":1.3048},
{"i":170,"o":1.3048,"h":1.3050,"l":1.3040,"c":1.3044},
{"i":171,"o":1.3044,"h":1.3050,"l":1.3042,"c":1.3048},
{"i":172,"o":1.3048,"h":1.3054,"l":1.3046,"c":1.3052},
{"i":173,"o":1.3052,"h":1.3060,"l":1.3050,"c":1.3058},
{"i":174,"o":1.3058,"h":1.3069,"l":1.3056,"c":1.3066},
{"i":175,"o":1.3066,"h":1.3074,"l":1.3064,"c":1.3072},
{"i":176,"o":1.3072,"h":1.3090,"l":1.3070,"c":1.3088},
{"i":177,"o":1.3088,"h":1.3108,"l":1.3086,"c":1.3105},
{"i":178,"o":1.3105,"h":1.3117,"l":1.3103,"c":1.3112},
{"i":179,"o":1.3112,"h":1.3116,"l":1.3104,"c":1.3108},
{"i":180,"o":1.3108,"h":1.3117,"l":1.3106,"c":1.3113},
{"i":181,"o":1.3113,"h":1.3117,"l":1.3107,"c":1.3110},
{"i":182,"o":1.3110,"h":1.3119,"l":1.3108,"c":1.3116},
{"i":183,"o":1.3116,"h":1.3125,"l":1.3114,"c":1.3122},
{"i":184,"o":1.3122,"h":1.3129,"l":1.3120,"c":1.3126},
{"i":185,"o":1.3126,"h":1.3129,"l":1.3120,"c":1.3123},
{"i":186,"o":1.3123,"h":1.3131,"l":1.3121,"c":1.3128},
{"i":187,"o":1.3128,"h":1.3135,"l":1.3126,"c":1.3132},
{"i":188,"o":1.3132,"h":1.3135,"l":1.3126,"c":1.3129},
{"i":189,"o":1.3129,"h":1.3137,"l":1.3127,"c":1.3134},
{"i":190,"o":1.3134,"h":1.3141,"l":1.3132,"c":1.3138},
{"i":191,"o":1.3138,"h":1.3142,"l":1.3132,"c":1.3135},
{"i":192,"o":1.3135,"h":1.3143,"l":1.3133,"c":1.3140},
{"i":193,"o":1.3140,"h":1.3144,"l":1.3134,"c":1.3137},
{"i":194,"o":1.3137,"h":1.3145,"l":1.3135,"c":1.3141},
{"i":195,"o":1.3141,"h":1.3146,"l":1.3136,"c":1.3139},
{"i":196,"o":1.3139,"h":1.3147,"l":1.3137,"c":1.3143},
{"i":197,"o":1.3143,"h":1.3152,"l":1.3141,"c":1.3148},
{"i":198,"o":1.3148,"h":1.3162,"l":1.3138,"c":1.3140},
{"i":199,"o":1.3140,"h":1.3145,"l":1.3130,"c":1.3135},
{"i":200,"o":1.3135,"h":1.3141,"l":1.3131,"c":1.3138},
{"i":201,"o":1.3138,"h":1.3140,"l":1.3130,"c":1.3134},
{"i":202,"o":1.3134,"h":1.3140,"l":1.3131,"c":1.3137},
{"i":203,"o":1.3137,"h":1.3141,"l":1.3132,"c":1.3135},
{"i":204,"o":1.3135,"h":1.3142,"l":1.3133,"c":1.3139},
{"i":205,"o":1.3139,"h":1.3142,"l":1.3133,"c":1.3136},
{"i":206,"o":1.3136,"h":1.3139,"l":1.3131,"c":1.3134},
{"i":207,"o":1.3134,"h":1.3141,"l":1.3132,"c":1.3138},
{"i":208,"o":1.3138,"h":1.3141,"l":1.3132,"c":1.3135},
{"i":209,"o":1.3135,"h":1.3140,"l":1.3132,"c":1.3137},
{"i":210,"o":1.3137,"h":1.3139,"l":1.3131,"c":1.3134},
{"i":211,"o":1.3134,"h":1.3140,"l":1.3131,"c":1.3137},
{"i":212,"o":1.3137,"h":1.3140,"l":1.3132,"c":1.3135},
{"i":213,"o":1.3135,"h":1.3141,"l":1.3133,"c":1.3138},
{"i":214,"o":1.3138,"h":1.3142,"l":1.3133,"c":1.3136},
{"i":215,"o":1.3136,"h":1.3139,"l":1.3131,"c":1.3134},
{"i":216,"o":1.3134,"h":1.3142,"l":1.3131,"c":1.3138},
{"i":217,"o":1.3138,"h":1.3148,"l":1.3136,"c":1.3143},
{"i":218,"o":1.3143,"h":1.3146,"l":1.3135,"c":1.3139},
{"i":219,"o":1.3139,"h":1.3141,"l":1.3130,"c":1.3133},
{"i":220,"o":1.3133,"h":1.3135,"l":1.3125,"c":1.3128},
{"i":221,"o":1.3128,"h":1.3131,"l":1.3120,"c":1.3124},
{"i":222,"o":1.3124,"h":1.3130,"l":1.3118,"c":1.3127},
{"i":223,"o":1.3127,"h":1.3134,"l":1.3125,"c":1.3131},
{"i":224,"o":1.3131,"h":1.3138,"l":1.3129,"c":1.3135},
{"i":225,"o":1.3135,"h":1.3138,"l":1.3130,"c":1.3133},
{"i":226,"o":1.3133,"h":1.3140,"l":1.3131,"c":1.3137},
{"i":227,"o":1.3137,"h":1.3144,"l":1.3135,"c":1.3141},
{"i":228,"o":1.3141,"h":1.3150,"l":1.3139,"c":1.3146},
{"i":229,"o":1.3146,"h":1.3158,"l":1.3138,"c":1.3140},
{"i":230,"o":1.3140,"h":1.3148,"l":1.3138,"c":1.3144},
{"i":231,"o":1.3144,"h":1.3147,"l":1.3136,"c":1.3139},
{"i":232,"o":1.3139,"h":1.3141,"l":1.3133,"c":1.3136},
{"i":233,"o":1.3136,"h":1.3142,"l":1.3134,"c":1.3139},
{"i":234,"o":1.3139,"h":1.3141,"l":1.3133,"c":1.3136},
{"i":235,"o":1.3136,"h":1.3138,"l":1.3130,"c":1.3133},
{"i":236,"o":1.3133,"h":1.3139,"l":1.3131,"c":1.3136},
{"i":237,"o":1.3136,"h":1.3139,"l":1.3131,"c":1.3134},
{"i":238,"o":1.3134,"h":1.3140,"l":1.3132,"c":1.3137},
{"i":239,"o":1.3137,"h":1.3139,"l":1.3132,"c":1.3135},
{"i":240,"o":1.3135,"h":1.3137,"l":1.3129,"c":1.3132},
{"i":241,"o":1.3132,"h":1.3138,"l":1.3130,"c":1.3135},
{"i":242,"o":1.3135,"h":1.3137,"l":1.3130,"c":1.3133},
{"i":243,"o":1.3133,"h":1.3136,"l":1.3128,"c":1.3131},
{"i":244,"o":1.3131,"h":1.3137,"l":1.3129,"c":1.3134},
{"i":245,"o":1.3134,"h":1.3136,"l":1.3126,"c":1.3129},
{"i":246,"o":1.3129,"h":1.3131,"l":1.3114,"c":1.3127},
{"i":247,"o":1.3127,"h":1.3136,"l":1.3125,"c":1.3133},
{"i":248,"o":1.3133,"h":1.3142,"l":1.3131,"c":1.3138},
{"i":249,"o":1.3138,"h":1.3147,"l":1.3136,"c":1.3143},
{"i":250,"o":1.3143,"h":1.3153,"l":1.3141,"c":1.3150},
{"i":251,"o":1.3150,"h":1.3159,"l":1.3148,"c":1.3156},
{"i":252,"o":1.3156,"h":1.3166,"l":1.3154,"c":1.3162},
{"i":253,"o":1.3162,"h":1.3166,"l":1.3155,"c":1.3158},
{"i":254,"o":1.3158,"h":1.3167,"l":1.3155,"c":1.3163},
{"i":255,"o":1.3163,"h":1.3166,"l":1.3157,"c":1.3160},
{"i":256,"o":1.3160,"h":1.3165,"l":1.3158,"c":1.3162},
{"i":257,"o":1.3162,"h":1.3164,"l":1.3157,"c":1.3160},
{"i":258,"o":1.3160,"h":1.3165,"l":1.3158,"c":1.3162},
{"i":259,"o":1.3162,"h":1.3164,"l":1.3158,"c":1.3161},
{"i":260,"o":1.3161,"h":1.3166,"l":1.3159,"c":1.3163},
{"i":261,"o":1.3163,"h":1.3165,"l":1.3158,"c":1.3161},
{"i":262,"o":1.3161,"h":1.3166,"l":1.3159,"c":1.3163},
{"i":263,"o":1.3163,"h":1.3168,"l":1.3161,"c":1.3165},
{"i":264,"o":1.3165,"h":1.3171,"l":1.3163,"c":1.3168},
{"i":265,"o":1.3168,"h":1.3176,"l":1.3166,"c":1.3173},
{"i":266,"o":1.3173,"h":1.3181,"l":1.3171,"c":1.3178},
{"i":267,"o":1.3178,"h":1.3182,"l":1.3173,"c":1.3176},
{"i":268,"o":1.3176,"h":1.3184,"l":1.3174,"c":1.3181},
{"i":269,"o":1.3181,"h":1.3188,"l":1.3179,"c":1.3185},
{"i":270,"o":1.3185,"h":1.3192,"l":1.3182,"c":1.3188},
{"i":271,"o":1.3188,"h":1.3195,"l":1.3185,"c":1.3192},
{"i":272,"o":1.3192,"h":1.3198,"l":1.3186,"c":1.3189},
{"i":273,"o":1.3189,"h":1.3196,"l":1.3186,"c":1.3193},
{"i":274,"o":1.3193,"h":1.3195,"l":1.3182,"c":1.3186},
{"i":275,"o":1.3186,"h":1.3188,"l":1.3176,"c":1.3180},
{"i":276,"o":1.3180,"h":1.3182,"l":1.3171,"c":1.3174},
{"i":277,"o":1.3174,"h":1.3175,"l":1.3165,"c":1.3168},
{"i":278,"o":1.3168,"h":1.3174,"l":1.3165,"c":1.3171},
{"i":279,"o":1.3171,"h":1.3173,"l":1.3163,"c":1.3166},
{"i":280,"o":1.3166,"h":1.3172,"l":1.3164,"c":1.3169},
{"i":281,"o":1.3169,"h":1.3171,"l":1.3162,"c":1.3165},
{"i":282,"o":1.3165,"h":1.3171,"l":1.3162,"c":1.3168},
{"i":283,"o":1.3168,"h":1.3170,"l":1.3163,"c":1.3166},
{"i":284,"o":1.3166,"h":1.3172,"l":1.3164,"c":1.3170},
{"i":285,"o":1.3170,"h":1.3175,"l":1.3168,"c":1.3173},
{"i":286,"o":1.3173,"h":1.3178,"l":1.3171,"c":1.3176},
{"i":287,"o":1.3176,"h":1.3181,"l":1.3174,"c":1.3178},
{"i":288,"o":1.3178,"h":1.3180,"l":1.3172,"c":1.3175},
{"i":289,"o":1.3175,"h":1.3180,"l":1.3173,"c":1.3177},
{"i":290,"o":1.3177,"h":1.3179,"l":1.3171,"c":1.3174},
{"i":291,"o":1.3174,"h":1.3176,"l":1.3168,"c":1.3171},
{"i":292,"o":1.3171,"h":1.3173,"l":1.3166,"c":1.3169},
{"i":293,"o":1.3169,"h":1.3173,"l":1.3166,"c":1.3171},
{"i":294,"o":1.3171,"h":1.3173,"l":1.3165,"c":1.3168},
{"i":295,"o":1.3168,"h":1.3170,"l":1.3161,"c":1.3164},
{"i":296,"o":1.3164,"h":1.3166,"l":1.3157,"c":1.3160},
{"i":297,"o":1.3160,"h":1.3162,"l":1.3152,"c":1.3156},
{"i":298,"o":1.3156,"h":1.3158,"l":1.3148,"c":1.3152},
{"i":299,"o":1.3152,"h":1.3158,"l":1.3149,"c":1.3155},
{"i":300,"o":1.3155,"h":1.3161,"l":1.3152,"c":1.3158},
{"i":301,"o":1.3158,"h":1.3161,"l":1.3152,"c":1.3155},
{"i":302,"o":1.3155,"h":1.3162,"l":1.3153,"c":1.3159},
{"i":303,"o":1.3159,"h":1.3165,"l":1.3157,"c":1.3162},
{"i":304,"o":1.3162,"h":1.3165,"l":1.3157,"c":1.3160},
{"i":305,"o":1.3160,"h":1.3166,"l":1.3158,"c":1.3163},
{"i":306,"o":1.3163,"h":1.3169,"l":1.3161,"c":1.3166},
{"i":307,"o":1.3166,"h":1.3169,"l":1.3162,"c":1.3164},
{"i":308,"o":1.3164,"h":1.3170,"l":1.3162,"c":1.3167},
{"i":309,"o":1.3167,"h":1.3170,"l":1.3163,"c":1.3165},
{"i":310,"o":1.3165,"h":1.3171,"l":1.3163,"c":1.3168},
{"i":311,"o":1.3168,"h":1.3173,"l":1.3166,"c":1.3170},
{"i":312,"o":1.3170,"h":1.3172,"l":1.3165,"c":1.3167},
{"i":313,"o":1.3167,"h":1.3174,"l":1.3165,"c":1.3171},
{"i":314,"o":1.3171,"h":1.3177,"l":1.3169,"c":1.3174},
{"i":315,"o":1.3174,"h":1.3181,"l":1.3172,"c":1.3178},
{"i":316,"o":1.3178,"h":1.3185,"l":1.3176,"c":1.3182},
{"i":317,"o":1.3182,"h":1.3186,"l":1.3177,"c":1.3180},
{"i":318,"o":1.3180,"h":1.3188,"l":1.3178,"c":1.3185},
{"i":319,"o":1.3185,"h":1.3191,"l":1.3180,"c":1.3183},
{"i":320,"o":1.3183,"h":1.3186,"l":1.3172,"c":1.3176},
{"i":321,"o":1.3176,"h":1.3178,"l":1.3163,"c":1.3166},
{"i":322,"o":1.3166,"h":1.3168,"l":1.3155,"c":1.3158},
{"i":323,"o":1.3158,"h":1.3160,"l":1.3151,"c":1.3154},
{"i":324,"o":1.3154,"h":1.3160,"l":1.3151,"c":1.3157},
{"i":325,"o":1.3157,"h":1.3159,"l":1.3150,"c":1.3153},
{"i":326,"o":1.3153,"h":1.3155,"l":1.3148,"c":1.3151},
{"i":327,"o":1.3151,"h":1.3154,"l":1.3147,"c":1.3150},
{"i":328,"o":1.3150,"h":1.3155,"l":1.3148,"c":1.3152},
{"i":329,"o":1.3152,"h":1.3154,"l":1.3144,"c":1.3149},
{"i":330,"o":1.3149,"h":1.3151,"l":1.3143,"c":1.3146},
{"i":331,"o":1.3146,"h":1.3147,"l":1.3136,"c":1.3139},
{"i":332,"o":1.3139,"h":1.3141,"l":1.3135,"c":1.31395},
{"i":333,"o":1.31395,"h":1.31415,"l":1.31389,"c":1.31397}
  ]
},
"vconcat": [
  {
    "width": 1167,
    "height": 455,
    "title": {"text": "▼ USDCAD,H1  1.31395 1.31415 1.31389 1.31397", "offset": -8, "dx": 4},
    "layer": [
      {
        "data": {"name": "xgrid"},
        "mark": {"type": "rule", "color": "#c8c8c8", "strokeDash": [3, 3], "strokeWidth": 1},
        "encoding": {
          "x": {"field": "i", "type": "quantitative", "scale": {"domain": [-0.92, 419.3], "nice": false, "zero": false}, "axis": null}
        }
      },
      {
        "data": {"name": "ylines"},
        "mark": {"type": "rule", "color": "#c8c8c8", "strokeDash": [3, 3], "strokeWidth": 1},
        "encoding": {
          "y": {"field": "p", "type": "quantitative", "scale": {"domain": [1.300926, 1.32083], "nice": false, "zero": false}, "axis": null}
        }
      },
      {
        "data": {"name": "days"},
        "mark": {"type": "rule", "color": "#1a1a1a", "strokeDash": [2, 2], "strokeWidth": 1},
        "encoding": {
          "x": {"field": "i", "type": "quantitative", "scale": {"domain": [-0.92, 419.3], "nice": false, "zero": false}, "axis": null}
        }
      },
      {
        "data": {"name": "cur"},
        "mark": {"type": "rule", "color": "#b4b4b4", "strokeWidth": 1},
        "encoding": {
          "y": {"field": "p", "type": "quantitative", "scale": {"domain": [1.300926, 1.32083], "nice": false, "zero": false}, "axis": null}
        }
      },
      {
        "data": {"name": "candles"},
        "mark": {"type": "rule", "color": "#3d63e0", "strokeWidth": 1},
        "encoding": {
          "x": {"field": "i", "type": "quantitative", "scale": {"domain": [-0.92, 419.3], "nice": false, "zero": false}, "axis": null},
          "y": {"field": "l", "type": "quantitative", "scale": {"domain": [1.300926, 1.32083], "nice": false, "zero": false}, "axis": null},
          "y2": {"field": "h"}
        }
      },
      {
        "data": {"name": "candles"},
        "mark": {"type": "bar", "width": 2},
        "encoding": {
          "x": {"field": "i", "type": "quantitative", "scale": {"domain": [-0.92, 419.3], "nice": false, "zero": false}, "axis": null},
          "y": {"field": "o", "type": "quantitative", "scale": {"domain": [1.300926, 1.32083], "nice": false, "zero": false}, "axis": null},
          "y2": {"field": "c"},
          "color": {"condition": {"test": "datum.c > datum.o", "value": "#93a9ef"}, "value": "#3a5fe0"}
        }
      },
      {
        "data": {"name": "jaw"},
        "mark": {"type": "line", "color": "#2a30d8", "strokeWidth": 1},
        "encoding": {
          "x": {"field": "i", "type": "quantitative", "scale": {"domain": [-0.92, 419.3], "nice": false, "zero": false}, "axis": null},
          "y": {"field": "v", "type": "quantitative", "scale": {"domain": [1.300926, 1.32083], "nice": false, "zero": false}, "axis": null}
        }
      },
      {
        "data": {"name": "teeth"},
        "mark": {"type": "line", "color": "#ee2020", "strokeWidth": 1},
        "encoding": {
          "x": {"field": "i", "type": "quantitative", "scale": {"domain": [-0.92, 419.3], "nice": false, "zero": false}, "axis": null},
          "y": {"field": "v", "type": "quantitative", "scale": {"domain": [1.300926, 1.32083], "nice": false, "zero": false}, "axis": null}
        }
      },
      {
        "data": {"name": "lips"},
        "mark": {"type": "line", "color": "#22dd22", "strokeWidth": 1},
        "encoding": {
          "x": {"field": "i", "type": "quantitative", "scale": {"domain": [-0.92, 419.3], "nice": false, "zero": false}, "axis": null},
          "y": {"field": "v", "type": "quantitative", "scale": {"domain": [1.300926, 1.32083], "nice": false, "zero": false}, "axis": null}
        }
      },
      {
        "data": {"name": "ygrid"},
        "mark": {"type": "point", "shape": "M0,0H2.5", "size": 4, "filled": false, "color": "#000000", "strokeWidth": 1, "opacity": 1},
        "encoding": {
          "x": {"value": "width"},
          "y": {"field": "p", "type": "quantitative", "scale": {"domain": [1.300926, 1.32083], "nice": false, "zero": false}, "axis": null}
        }
      },
      {
        "data": {"name": "ygrid"},
        "mark": {"type": "text", "align": "left", "baseline": "middle", "dx": 4, "font": "Liberation Sans", "fontSize": 6.5, "color": "#000000"},
        "encoding": {
          "x": {"value": "width"},
          "y": {"field": "p", "type": "quantitative", "scale": {"domain": [1.300926, 1.32083], "nice": false, "zero": false}, "axis": null},
          "text": {"field": "p", "type": "quantitative", "format": ".5f"}
        }
      },
      {
        "data": {"name": "cur"},
        "mark": {"type": "point", "shape": "M0,-3.8H29V3.8H0Z", "size": 4, "filled": true, "color": "#000000", "strokeWidth": 0, "opacity": 1},
        "encoding": {
          "x": {"value": "width"},
          "y": {"field": "p", "type": "quantitative", "scale": {"domain": [1.300926, 1.32083], "nice": false, "zero": false}, "axis": null}
        }
      },
      {
        "data": {"name": "cur"},
        "mark": {"type": "text", "align": "left", "baseline": "middle", "dx": 2, "font": "Liberation Sans", "fontSize": 6.5, "color": "#ffffff"},
        "encoding": {
          "x": {"value": "width"},
          "y": {"field": "p", "type": "quantitative", "scale": {"domain": [1.300926, 1.32083], "nice": false, "zero": false}, "axis": null},
          "text": {"field": "p", "type": "quantitative", "format": ".5f"}
        }
      },
      {
        "data": {"name": "levels"},
        "mark": {"type": "rule", "color": "#f02828", "strokeWidth": 1},
        "encoding": {
          "y": {"field": "p", "type": "quantitative", "scale": {"domain": [1.300926, 1.32083], "nice": false, "zero": false}, "axis": null}
        }
      },
      {
        "data": {"name": "levels"},
        "mark": {"type": "point", "shape": "M0,-3.8H29V3.8H0Z", "size": 4, "filled": true, "color": "#ff0000", "strokeWidth": 0, "opacity": 1},
        "encoding": {
          "x": {"value": "width"},
          "y": {"field": "p", "type": "quantitative", "scale": {"domain": [1.300926, 1.32083], "nice": false, "zero": false}, "axis": null}
        }
      },
      {
        "data": {"name": "levels"},
        "mark": {"type": "text", "align": "left", "baseline": "middle", "dx": 2, "font": "Liberation Sans", "fontSize": 6.5, "color": "#ffffff"},
        "encoding": {
          "x": {"value": "width"},
          "y": {"field": "p", "type": "quantitative", "scale": {"domain": [1.300926, 1.32083], "nice": false, "zero": false}, "axis": null},
          "text": {"field": "p", "type": "quantitative", "format": ".5f"}
        }
      }
    ]
  },
  {
    "width": 1167,
    "height": 46,
    "title": {"text": "MACD(12,26,9) -0.000794 -0.000585", "offset": -8, "dx": 4},
    "layer": [
      {
        "data": {"name": "xgrid"},
        "mark": {"type": "rule", "color": "#c8c8c8", "strokeDash": [3, 3], "strokeWidth": 1},
        "encoding": {
          "x": {"field": "i", "type": "quantitative", "scale": {"domain": [-0.92, 419.3], "nice": false, "zero": false}, "axis": null}
        }
      },
      {
        "data": {"values": [{}]},
        "mark": {"type": "rule", "color": "#c8c8c8", "strokeDash": [3, 3], "strokeWidth": 1},
        "encoding": {
          "y": {"datum": 0, "type": "quantitative", "scale": {"domain": [-0.001768, 0.001916], "nice": false, "zero": false}, "axis": null}
        }
      },
      {
        "data": {"name": "days"},
        "mark": {"type": "rule", "color": "#1a1a1a", "strokeDash": [2, 2], "strokeWidth": 1},
        "encoding": {
          "x": {"field": "i", "type": "quantitative", "scale": {"domain": [-0.92, 419.3], "nice": false, "zero": false}, "axis": null}
        }
      },
      {
        "data": {"name": "macd"},
        "mark": {"type": "bar", "width": 1, "color": "#c4c4c4"},
        "encoding": {
          "x": {"field": "i", "type": "quantitative", "scale": {"domain": [-0.92, 419.3], "nice": false, "zero": false}, "axis": null},
          "y": {"field": "m", "type": "quantitative", "scale": {"domain": [-0.001768, 0.001916], "nice": false, "zero": false}, "axis": null}
        }
      },
      {
        "data": {"name": "sig"},
        "mark": {"type": "line", "color": "#f03030", "strokeWidth": 1, "strokeDash": [3, 2]},
        "encoding": {
          "x": {"field": "i", "type": "quantitative", "scale": {"domain": [-0.92, 419.3], "nice": false, "zero": false}, "axis": null},
          "y": {"field": "s", "type": "quantitative", "scale": {"domain": [-0.001768, 0.001916], "nice": false, "zero": false}, "axis": null}
        }
      },
      {
        "data": {"values": [{}]},
        "mark": {"type": "text", "align": "left", "baseline": "top", "dx": 2, "dy": 1, "font": "Liberation Sans", "fontSize": 6.5, "color": "#000000"},
        "encoding": {
          "x": {"value": "width"},
          "y": {"datum": 0.001916, "type": "quantitative", "scale": {"domain": [-0.001768, 0.001916], "nice": false, "zero": false}, "axis": null},
          "text": {"value": "0.001916"}
        }
      },
      {
        "data": {"values": [{}]},
        "mark": {"type": "text", "align": "left", "baseline": "middle", "dx": 2, "font": "Liberation Sans", "fontSize": 6.5, "color": "#000000"},
        "encoding": {
          "x": {"value": "width"},
          "y": {"datum": 0, "type": "quantitative", "scale": {"domain": [-0.001768, 0.001916], "nice": false, "zero": false}, "axis": null},
          "text": {"value": "0.00"}
        }
      },
      {
        "data": {"values": [{}]},
        "mark": {"type": "text", "align": "left", "baseline": "bottom", "dx": 1, "dy": -2, "font": "Liberation Sans", "fontSize": 6.5, "color": "#000000"},
        "encoding": {
          "x": {"value": "width"},
          "y": {"datum": -0.001768, "type": "quantitative", "scale": {"domain": [-0.001768, 0.001916], "nice": false, "zero": false}, "axis": null},
          "text": {"value": "-0.001768"}
        }
      },
      {
        "data": {"name": "xlab"},
        "mark": {"type": "point", "shape": "M0,0V3", "size": 4, "filled": false, "color": "#000000", "strokeWidth": 1, "opacity": 1},
        "encoding": {
          "x": {"field": "i", "type": "quantitative", "scale": {"domain": [-0.92, 419.3], "nice": false, "zero": false}, "axis": null},
          "y": {"value": "height"}
        }
      },
      {
        "data": {"name": "xlab"},
        "mark": {"type": "text", "align": "left", "baseline": "top", "dx": 0.5, "dy": 4, "font": "Liberation Sans", "fontSize": 6.5, "color": "#000000"},
        "encoding": {
          "x": {"field": "i", "type": "quantitative", "scale": {"domain": [-0.92, 419.3], "nice": false, "zero": false}, "axis": null},
          "y": {"value": "height"},
          "text": {"field": "t", "type": "nominal"}
        }
      }
    ]
  }
]
}
